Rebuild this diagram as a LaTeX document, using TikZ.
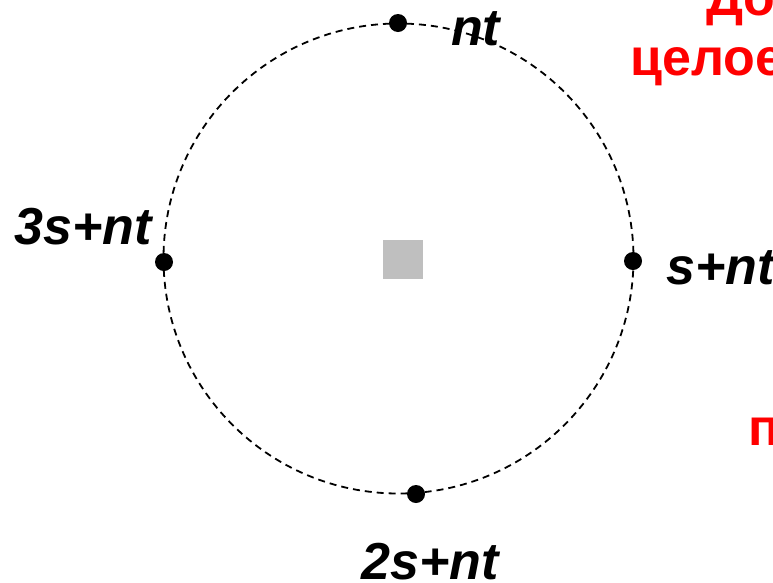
\documentclass[tikz,border=0pt]{standalone}
\usepackage{fontspec}
\setmainfont{Liberation Sans}
\tikzset{
  label/.style={anchor=base west,inner sep=0pt,font=\fontsize{52}{58}\selectfont\bfseries\itshape},
  redtext/.style={anchor=base west,inner sep=0pt,text=red,font=\fontsize{52}{58}\selectfont\bfseries},
  dot/.style={circle,fill=black,inner sep=0pt,minimum size=18}
}
\begin{document}
\begin{tikzpicture}[x=1pt,y=-1pt]
        \useasboundingbox (0,0) rectangle (773,582);
        \clip (0,0) rectangle (773,582);
        \coordinate (c) at (398.5,258.5);
        \draw [dash pattern=on 7pt off 5pt,line width=1.8pt] (c) circle[radius=235];
        \fill [color=gray!50] (383,240) rectangle (423,279);
        \node[dot] (pt) at (398,23) {};
        \node[dot] (pr) at (633,261) {};
        \node[dot] (pb) at (416,494) {};
        \node[dot] (pl) at (164,262) {};
        \node[label] (lt) at (451,45) {nt};
        \node[label] (lr) at (666,284) {s+nt};
        \node[label] (lb) at (361,579) {2s+nt};
        \node[label] (ll) at (14,244) {3s+nt};
        \node[redtext] (r1) at (706,15) {До};
        \node[redtext] (r2) at (630,75) {целое};
        \node[redtext] (r3) at (748,445) {п};
\end{tikzpicture}
\end{document}
